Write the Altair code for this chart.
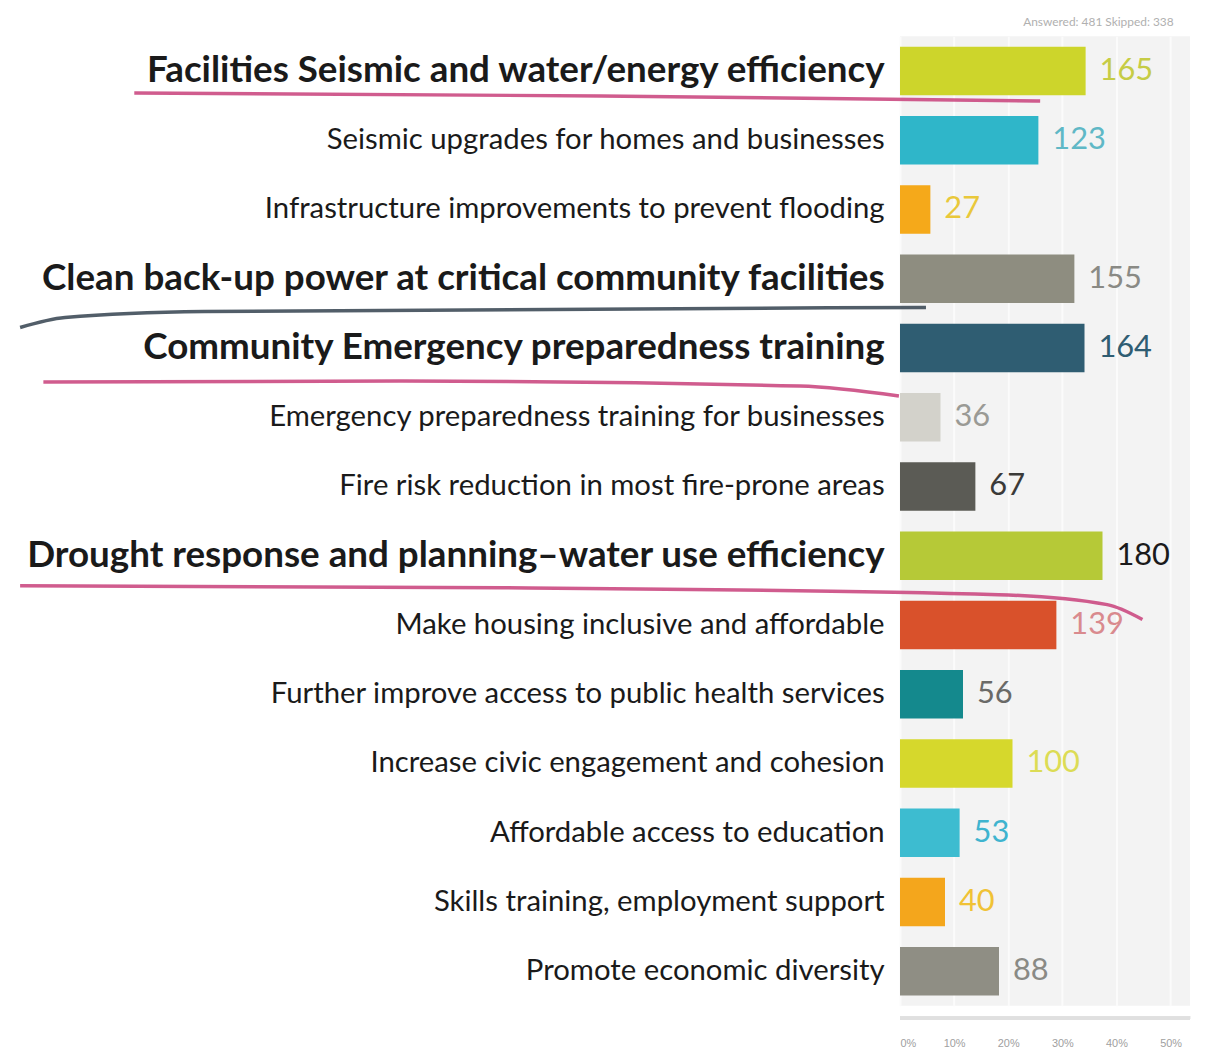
import altair as alt
import pandas as pd

categories = [
    "Facilities Seismic and water/energy efficiency",
    "Seismic upgrades for homes and businesses",
    "Infrastructure improvements to prevent flooding",
    "Clean back-up power at critical community facilities",
    "Community Emergency preparedness training",
    "Emergency preparedness training for businesses",
    "Fire risk reduction in most fire-prone areas",
    "Drought response and planning–water use efficiency",
    "Make housing inclusive and affordable",
    "Further improve access to public health services",
    "Increase civic engagement and cohesion",
    "Affordable access to education",
    "Skills training, employment support",
    "Promote economic diversity",
]
counts = [165, 123, 27, 155, 164, 36, 67, 180, 139, 56, 100, 53, 40, 88]
bar_colors = ["#cdd52b", "#2fb6c9", "#f5a91a", "#8e8d80", "#2f5d72", "#d3d2cb", "#5b5b55",
              "#b6c937", "#d9512b", "#14898d", "#d6d82c", "#3dbcd0", "#f4a61c", "#8f8e84"]
label_colors = ["#c6cc45", "#5fb8c6", "#e9c83a", "#8a8a85", "#2f5d72", "#9a9a95", "#3a3a38",
                "#1a1a1a", "#d98a8e", "#6a6a68", "#dcdc55", "#3fb4cf", "#f0c235", "#8a8a85"]
bold_categories = [categories[0], categories[3], categories[4], categories[7]]
answered = 481
skipped = 338
tick_values = [0, 0.1, 0.2, 0.3, 0.4, 0.5]

# hand-drawn underline annotations (x in share units, y in row units: row i centre = i + 0.5)
mark_ids = ["a"] * 3 + ["b"] * 4 + ["c"] * 4 + ["d"] * 5
mark_order = [0, 1, 2, 0, 1, 2, 3, 0, 1, 2, 3, 0, 1, 2, 3, 4]
mark_x = [-1.415, -0.552, 0.259,
          -1.626, -1.543, -1.286, 0.048,
          -1.583, -0.919, -0.185, -0.002,
          -1.626, -0.736, 0.182, 0.383, 0.448]
mark_y = [0.818, 0.861, 0.933,
          4.204, 4.060, 3.974, 3.917,
          4.993, 4.978, 5.050, 5.194,
          7.934, 7.963, 8.063, 8.207, 8.422]
mark_colors = {"a": "#c8407a", "b": "#34424f", "c": "#c8407a", "d": "#c8407a"}

df = pd.DataFrame({
    "category": categories,
    "count": counts,
    "share": [c / answered for c in counts],
    "bar_color": bar_colors,
    "label_color": label_colors,
})
ann = pd.DataFrame({
    "id": mark_ids, "order": mark_order, "x": mark_x, "row": mark_y,
    "color": [mark_colors[i] for i in mark_ids],
})

bold_test = "indexof(" + str(bold_categories).replace("'", '"') + ", datum.value) >= 0"

y_enc = alt.Y(
    "category:N", sort=categories,
    scale=alt.Scale(paddingInner=0.3, paddingOuter=0.15),
    axis=alt.Axis(
        title=None, ticks=False, domain=False, labelPadding=16, labelLimit=1000,
        labelColor="#1a1a1a", labelFont="Lato",
        labelFontSize=alt.condition(bold_test, alt.value(37), alt.value(29.5)),
        labelFontWeight=alt.condition(bold_test, alt.value("bold"), alt.value("normal")),
    ),
)
x_enc = alt.X(
    "share:Q",
    scale=alt.Scale(domain=[0, 0.536], nice=False),
    axis=alt.Axis(
        title=None, values=tick_values, format=".0%",
        labelFontSize=11, labelColor="#a0a0a0", ticks=False, domain=False,
        gridColor="#fbfbfb", gridWidth=2, labelPadding=32,
    ),
)

bars = alt.Chart(df).mark_bar().encode(
    x=x_enc, y=y_enc, color=alt.Color("bar_color:N", scale=None)
)
labels = alt.Chart(df).mark_text(
    align="left", baseline="middle", dx=14, fontSize=31, font="Lato"
).encode(
    x="share:Q", y=alt.Y("category:N", sort=categories),
    text="count:Q", color=alt.Color("label_color:N", scale=None),
)
baseline_rule = alt.Chart(df).mark_rule(color="#e0e0e0", strokeWidth=3).encode(
    x=alt.value(0), x2=alt.value(292), y=alt.value(988)
)
underlines = alt.Chart(ann).mark_line(
    strokeWidth=3.5, interpolate="monotone", opacity=0.85, clip=False
).encode(
    x=alt.X("x:Q"),
    y=alt.Y("row:Q", scale=alt.Scale(domain=[14, 0], nice=False, zero=False), axis=None),
    detail="id:N", order="order:Q",
    color=alt.Color("color:N", scale=None),
)

base = alt.layer(bars, labels, baseline_rule)

chart = alt.layer(base, underlines).resolve_scale(
    y="independent"
).properties(
    width=292, height=976,
    padding={"left": 5, "top": 5, "right": 5, "bottom": 5},
    background="white",
    title=alt.TitleParams(
        f"Answered: {answered}     Skipped: {skipped}", anchor="end",
        fontSize=12, color="#b0b0b0", fontWeight="normal", offset=7, font="Lato", dx=-18,
    ),
).configure_view(fill="#f3f3f3", strokeWidth=0)

chart.save("out.html", embed_options={"renderer": "svg", "actions": False})
